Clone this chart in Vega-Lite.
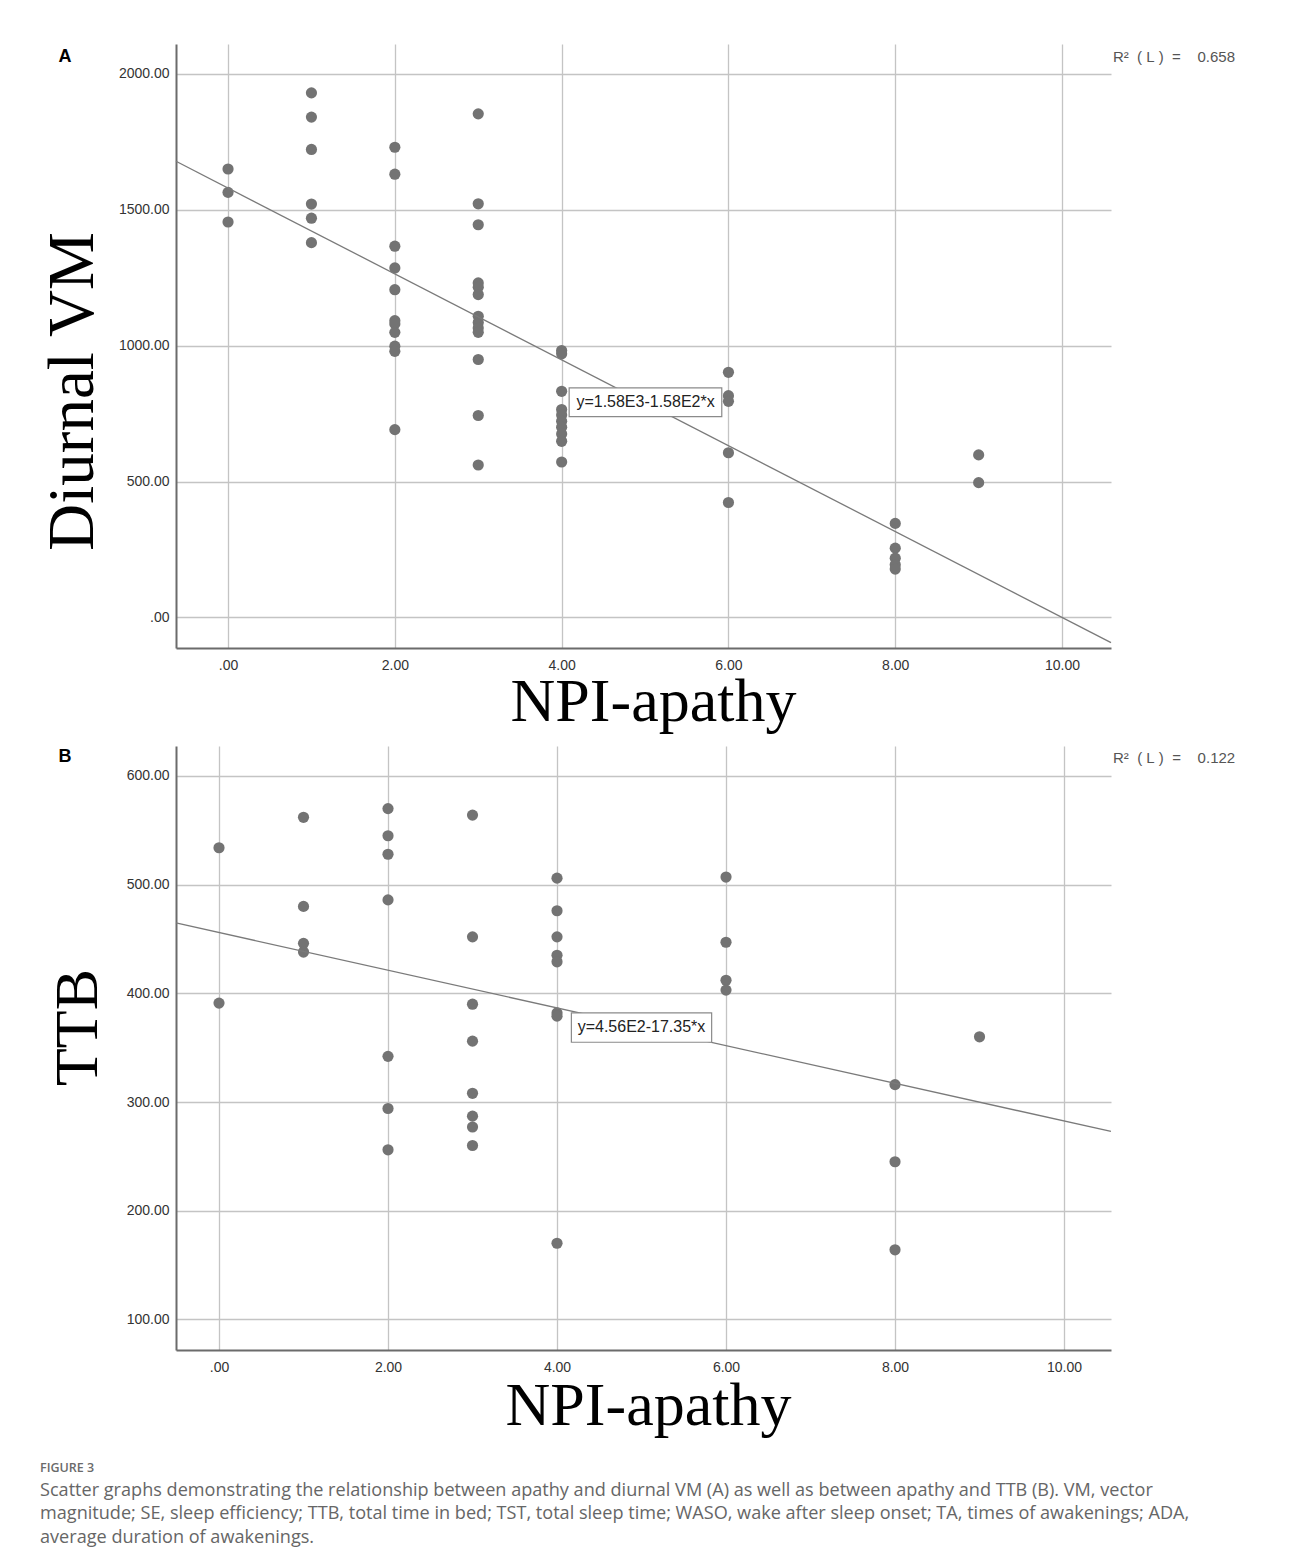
{
  "$schema": "https://vega.github.io/schema/vega-lite/v6.json",
  "background": "white",
  "padding": {"left": 40, "top": 44, "right": 10, "bottom": 10},
  "autosize": {"type": "pad"},
  "spacing": 98,
  "bounds": "flush",
  "datasets": {
    "a": [
      {"npi": 0, "value": 1650}, {"npi": 0, "value": 1564}, {"npi": 0, "value": 1455},
      {"npi": 1, "value": 1930}, {"npi": 1, "value": 1841}, {"npi": 1, "value": 1722}, {"npi": 1, "value": 1521}, {"npi": 1, "value": 1469}, {"npi": 1, "value": 1379},
      {"npi": 2, "value": 1730}, {"npi": 2, "value": 1631}, {"npi": 2, "value": 1366}, {"npi": 2, "value": 1286}, {"npi": 2, "value": 1206}, {"npi": 2, "value": 1092}, {"npi": 2, "value": 1080}, {"npi": 2, "value": 1049}, {"npi": 2, "value": 998}, {"npi": 2, "value": 979}, {"npi": 2, "value": 691},
      {"npi": 3, "value": 1853}, {"npi": 3, "value": 1522}, {"npi": 3, "value": 1445}, {"npi": 3, "value": 1231}, {"npi": 3, "value": 1215}, {"npi": 3, "value": 1188}, {"npi": 3, "value": 1108}, {"npi": 3, "value": 1085}, {"npi": 3, "value": 1065}, {"npi": 3, "value": 1049}, {"npi": 3, "value": 949}, {"npi": 3, "value": 743}, {"npi": 3, "value": 561},
      {"npi": 4, "value": 982}, {"npi": 4, "value": 970}, {"npi": 4, "value": 832}, {"npi": 4, "value": 765}, {"npi": 4, "value": 745}, {"npi": 4, "value": 722}, {"npi": 4, "value": 700}, {"npi": 4, "value": 675}, {"npi": 4, "value": 648}, {"npi": 4, "value": 572},
      {"npi": 6, "value": 902}, {"npi": 6, "value": 816}, {"npi": 6, "value": 795}, {"npi": 6, "value": 606}, {"npi": 6, "value": 423},
      {"npi": 8, "value": 346}, {"npi": 8, "value": 255}, {"npi": 8, "value": 218}, {"npi": 8, "value": 194}, {"npi": 8, "value": 178},
      {"npi": 9, "value": 598}, {"npi": 9, "value": 496}
    ],
    "b": [
      {"npi": 0, "value": 534}, {"npi": 0, "value": 391},
      {"npi": 1, "value": 562}, {"npi": 1, "value": 480}, {"npi": 1, "value": 446}, {"npi": 1, "value": 438},
      {"npi": 2, "value": 570}, {"npi": 2, "value": 545}, {"npi": 2, "value": 528}, {"npi": 2, "value": 486}, {"npi": 2, "value": 342}, {"npi": 2, "value": 294}, {"npi": 2, "value": 256},
      {"npi": 3, "value": 564}, {"npi": 3, "value": 452}, {"npi": 3, "value": 390}, {"npi": 3, "value": 356}, {"npi": 3, "value": 308}, {"npi": 3, "value": 287}, {"npi": 3, "value": 277}, {"npi": 3, "value": 260},
      {"npi": 4, "value": 506}, {"npi": 4, "value": 476}, {"npi": 4, "value": 452}, {"npi": 4, "value": 435}, {"npi": 4, "value": 429}, {"npi": 4, "value": 382}, {"npi": 4, "value": 379}, {"npi": 4, "value": 170},
      {"npi": 6, "value": 507}, {"npi": 6, "value": 447}, {"npi": 6, "value": 412}, {"npi": 6, "value": 403},
      {"npi": 8, "value": 316}, {"npi": 8, "value": 245}, {"npi": 8, "value": 164},
      {"npi": 9, "value": 360}
    ],
    "fitA": [{"npi": -0.624, "value": 1678.6}, {"npi": 10.587, "value": -92.7}],
    "fitB": [{"npi": -0.509, "value": 464.8}, {"npi": 10.556, "value": 272.9}],
    "boxA": [{"npi": 4.09, "npi2": 5.92, "value": 739, "value2": 845}],
    "boxB": [{"npi": 4.17, "npi2": 5.83, "value": 355, "value2": 382}],
    "eqA": [{"npi": 5.006, "value": 792, "label": "y=1.58E3-1.58E2*x"}],
    "eqB": [{"npi": 5.0, "value": 368.6, "label": "y=4.56E2-17.35*x"}],
    "noteA": [{"npi": 10.61, "value": 2062, "label": "R²\u00a0\u00a0(\u00a0L\u00a0)\u00a0\u00a0=\u00a0\u00a0\u00a0\u00a00.658"}],
    "noteB": [{"npi": 10.58, "value": 616.6, "label": "R²\u00a0\u00a0(\u00a0L\u00a0)\u00a0\u00a0=\u00a0\u00a0\u00a0\u00a00.122"}],
    "tagA": [{"npi": -1.954, "value": 2044, "label": "A"}],
    "tagB": [{"npi": -1.822, "value": 612.9, "label": "B"}]
  },
  "title": {
    "text": "FIGURE 3",
    "subtitle": [
      "Scatter graphs demonstrating the relationship between apathy and diurnal VM (A) as well as between apathy and TTB (B). VM, vector",
      "magnitude; SE, sleep efficiency; TTB, total time in bed; TST, total sleep time; WASO, wake after sleep onset; TA, times of awakenings; ADA,",
      "average duration of awakenings."
    ],
    "orient": "bottom",
    "anchor": "start",
    "frame": "bounds",
    "offset": 26,
    "font": "Open Sans",
    "fontSize": 12.5,
    "fontWeight": 600,
    "color": "#6a6a6a",
    "subtitleFont": "Open Sans",
    "subtitleFontSize": 18.1,
    "subtitleColor": "#666666",
    "subtitleLineHeight": 23.5,
    "subtitlePadding": 7
  },
  "vconcat": [
    {
      "width": 935,
      "height": 604,
      "encoding": {
        "x": {
          "field": "npi", "type": "quantitative",
          "scale": {"domain": [-0.624, 10.587], "nice": false, "zero": false},
          "axis": {"values": [0, 2, 4, 6, 8, 10], "title": "NPI-apathy", "titleX": 477, "titleY": 72}
        },
        "y": {
          "field": "value", "type": "quantitative",
          "scale": {"domain": [-112.5, 2110], "nice": false, "zero": false},
          "axis": {"values": [0, 500, 1000, 1500, 2000], "title": "Diurnal VM", "titleX": -84, "titleY": 347, "titleFontSize": 65}
        }
      },
      "layer": [
        {"data": {"name": "a"}, "mark": {"type": "point", "filled": true, "size": 125, "color": "#737373", "opacity": 1}},
        {"data": {"name": "fitA"}, "mark": {"type": "line", "color": "#7a7a7a", "strokeWidth": 1.3}, "encoding": {}},
        {"data": {"name": "boxA"}, "mark": {"type": "rect", "fill": "white", "stroke": "#8a8a8a", "strokeWidth": 1.2}, "encoding": {"x2": {"field": "npi2"}, "y2": {"field": "value2"}}},
        {"data": {"name": "eqA"}, "mark": {"type": "text", "font": "Liberation Sans", "fontSize": 16, "color": "#222222", "align": "center", "baseline": "middle"}, "encoding": {"text": {"field": "label"}}},
        {"data": {"name": "noteA"}, "mark": {"type": "text", "font": "Liberation Sans", "fontSize": 15, "color": "#555555", "align": "left", "baseline": "middle"}, "encoding": {"text": {"field": "label"}}},
        {"data": {"name": "tagA"}, "mark": {"type": "text", "font": "Liberation Sans", "fontSize": 18, "fontWeight": "bold", "color": "#000000", "align": "center", "baseline": "alphabetic"}, "encoding": {"text": {"field": "label"}}}
      ]
    },
    {
      "width": 935,
      "height": 604,
      "encoding": {
        "x": {
          "field": "npi", "type": "quantitative",
          "scale": {"domain": [-0.509, 10.556], "nice": false, "zero": false},
          "axis": {"values": [0, 2, 4, 6, 8, 10], "title": "NPI-apathy", "titleX": 472, "titleY": 74}
        },
        "y": {
          "field": "value", "type": "quantitative",
          "scale": {"domain": [71.8, 627.6], "nice": false, "zero": false},
          "axis": {"values": [100, 200, 300, 400, 500, 600], "title": "TTB", "titleX": -80, "titleY": 281}
        }
      },
      "layer": [
        {"data": {"name": "b"}, "mark": {"type": "point", "filled": true, "size": 125, "color": "#737373", "opacity": 1}},
        {"data": {"name": "fitB"}, "mark": {"type": "line", "color": "#7a7a7a", "strokeWidth": 1.3}, "encoding": {}},
        {"data": {"name": "boxB"}, "mark": {"type": "rect", "fill": "white", "stroke": "#8a8a8a", "strokeWidth": 1.2}, "encoding": {"x2": {"field": "npi2"}, "y2": {"field": "value2"}}},
        {"data": {"name": "eqB"}, "mark": {"type": "text", "font": "Liberation Sans", "fontSize": 16, "color": "#222222", "align": "center", "baseline": "middle"}, "encoding": {"text": {"field": "label"}}},
        {"data": {"name": "noteB"}, "mark": {"type": "text", "font": "Liberation Sans", "fontSize": 15, "color": "#555555", "align": "left", "baseline": "middle"}, "encoding": {"text": {"field": "label"}}},
        {"data": {"name": "tagB"}, "mark": {"type": "text", "font": "Liberation Sans", "fontSize": 18, "fontWeight": "bold", "color": "#000000", "align": "center", "baseline": "alphabetic"}, "encoding": {"text": {"field": "label"}}}
      ]
    }
  ],
  "config": {
    "view": {"stroke": null},
    "axis": {
      "grid": true,
      "gridColor": "#c4c4c4",
      "gridWidth": 1.3,
      "domainColor": "#6b6b6b",
      "domainWidth": 2,
      "ticks": false,
      "tickSize": 0,
      "labelFont": "Liberation Sans",
      "labelFontSize": 14,
      "labelColor": "#333333",
      "labelOverlap": false,
      "labelExpr": "datum.value == 0 ? '.00' : format(datum.value, '.2f')",
      "titleFont": "Liberation Serif",
      "titleFontSize": 62,
      "titleFontWeight": "normal",
      "titleColor": "#000000",
      "titleBaseline": "alphabetic",
      "titleAlign": "center"
    },
    "axisX": {"labelPadding": 10},
    "axisY": {"labelPadding": 7, "titleAngle": 270}
  }
}
